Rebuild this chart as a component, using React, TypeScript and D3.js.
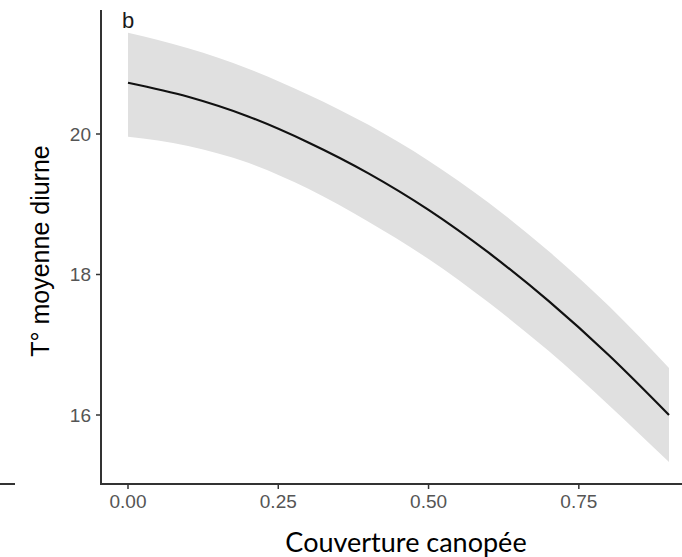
import React, { useEffect, useRef } from 'react'
import * as d3 from 'd3'

// values
const canopy = [0, 0.1, 0.2, 0.3, 0.4, 0.5, 0.6, 0.7, 0.8, 0.9]
const fit = [20.73, 20.53, 20.25, 19.88, 19.44, 18.92, 18.31, 17.62, 16.85, 16.0]
const upper = [21.44, 21.22, 20.93, 20.56, 20.13, 19.62, 19.02, 18.33, 17.55, 16.67]
const lower = [19.96, 19.83, 19.59, 19.22, 18.75, 18.22, 17.6, 16.91, 16.14, 15.33]
const xTicks = [0, 0.25, 0.5, 0.75]
const yTicks = [16, 18, 20]

export default function App() {
  const ref = useRef<SVGSVGElement>(null)

  useEffect(() => {
    const width = 682
    const svg = d3.select(ref.current)
    svg.selectAll('*').remove()

    const x = d3.scaleLinear().domain([0, 0.9]).range([128, 669])
    const y = d3.scaleLinear().domain([16, 20]).range([415, 134])
    const x0 = 101
    const y0 = 484
    const sans = "'Liberation Sans', Arial, sans-serif"

    const data = canopy.map((c, i) => ({ c, fit: fit[i], hi: upper[i], lo: lower[i] }))

    svg.append('path')
      .datum(data)
      .attr('fill', '#e0e0e0')
      .attr('d', d3.area<any>()
        .x(d => x(d.c))
        .y0(d => y(d.lo))
        .y1(d => y(d.hi))
        .curve(d3.curveMonotoneX))

    svg.append('path')
      .datum(data)
      .attr('fill', 'none')
      .attr('stroke', '#111')
      .attr('stroke-width', 2.2)
      .attr('d', d3.line<any>()
        .x(d => x(d.c))
        .y(d => y(d.fit))
        .curve(d3.curveMonotoneX))

    // axes (ggplot classic look)
    const axisColor = '#333'
    svg.append('line')
      .attr('x1', x0).attr('x2', x0).attr('y1', 10).attr('y2', y0)
      .attr('stroke', axisColor).attr('stroke-width', 2)
    svg.append('line')
      .attr('x1', x0 - 1).attr('x2', width).attr('y1', y0).attr('y2', y0)
      .attr('stroke', axisColor).attr('stroke-width', 2)
    // stray bit of the neighbouring panel's axis
    svg.append('line')
      .attr('x1', 0).attr('x2', 15).attr('y1', y0).attr('y2', y0)
      .attr('stroke', axisColor).attr('stroke-width', 2)

    const yg = svg.append('g')
    yg.selectAll('line')
      .data(yTicks)
      .join('line')
      .attr('x1', x0 - 5).attr('x2', x0)
      .attr('y1', d => y(d)).attr('y2', d => y(d))
      .attr('stroke', axisColor).attr('stroke-width', 1.5)
    yg.selectAll('text')
      .data(yTicks)
      .join('text')
      .attr('x', x0 - 10)
      .attr('y', d => y(d))
      .attr('dy', '0.36em')
      .attr('text-anchor', 'end')
      .attr('font-family', sans)
      .attr('font-size', 19)
      .attr('fill', '#555')
      .text(d => d3.format('d')(d))

    const xg = svg.append('g')
    xg.selectAll('line')
      .data(xTicks)
      .join('line')
      .attr('x1', d => x(d)).attr('x2', d => x(d))
      .attr('y1', y0).attr('y2', y0 + 5)
      .attr('stroke', axisColor).attr('stroke-width', 1.5)
    xg.selectAll('text')
      .data(xTicks)
      .join('text')
      .attr('x', d => x(d))
      .attr('y', 508)
      .attr('text-anchor', 'middle')
      .attr('font-family', sans)
      .attr('font-size', 19)
      .attr('fill', '#555')
      .text(d => d3.format('.2f')(d))

    svg.append('text')
      .attr('x', 122).attr('y', 28)
      .attr('font-family', sans)
      .attr('font-size', 22)
      .attr('fill', '#1a1a1a')
      .text('b')

    svg.append('text')
      .attr('transform', 'translate(49,251) rotate(-90)')
      .attr('text-anchor', 'middle')
      .attr('font-family', sans)
      .attr('font-size', 25)
      .attr('fill', '#000')
      .text('T° moyenne diurne')

    svg.append('text')
      .attr('x', 406).attr('y', 552)
      .attr('text-anchor', 'middle')
      .attr('font-family', 'Lato, sans-serif')
      .attr('font-size', 27)
      .attr('fill', '#000')
      .text('Couverture canopée')
  }, [])

  return (
    <svg ref={ref} width={682} height={557}
      style={{ position: 'absolute', left: 0, top: 0, background: '#fff' }} />
  )
}
